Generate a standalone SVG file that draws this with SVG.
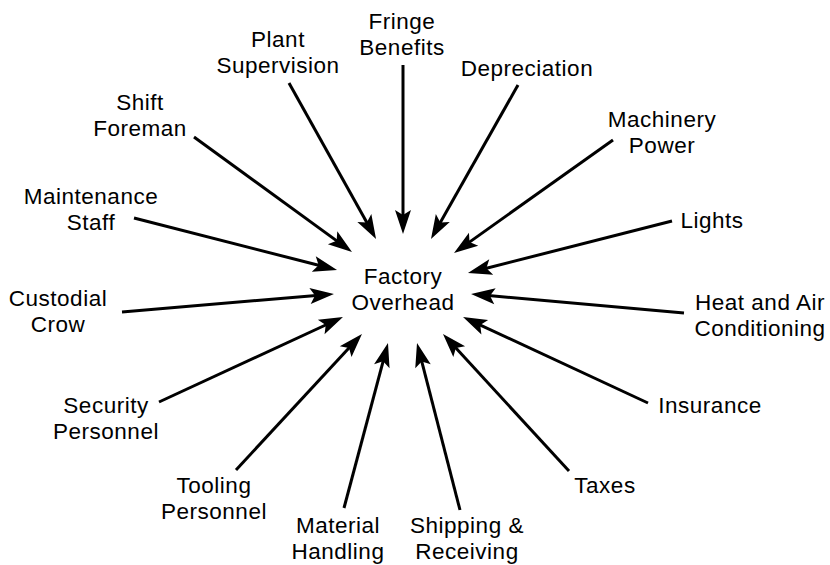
<svg xmlns="http://www.w3.org/2000/svg" width="830" height="565" viewBox="0 0 830 565">
<style>
text{font-family:"Liberation Sans",Arial,Helvetica,sans-serif;font-size:22.5px;fill:#000;text-anchor:middle;letter-spacing:0.5px}
.c line{stroke:#000;stroke-width:3;marker-end:url(#ah)}
</style>
<defs>
<marker id="ah" markerUnits="userSpaceOnUse" markerWidth="30" markerHeight="20" refX="0" refY="0" orient="auto" overflow="visible" viewBox="-15 -10 30 20">
<path d="M12,0 L-12,-8 L-7,0 L-12,8 Z" fill="#000"/>
</marker>
</defs>
<rect width="830" height="565" fill="#fff"/>
<g id="center"><text x="403" y="284">Factory</text><text x="403" y="310">Overhead</text></g>
<g id="fringe"><text x="402" y="29">Fringe</text><text x="402" y="55">Benefits</text></g>
<g id="plant"><text x="278" y="47">Plant</text><text x="278" y="73">Supervision</text></g>
<g id="shift"><text x="140" y="110">Shift</text><text x="140" y="136">Foreman</text></g>
<g id="maintenance"><text x="91" y="204">Maintenance</text><text x="91" y="230">Staff</text></g>
<g id="custodial"><text x="58" y="306">Custodial</text><text x="58" y="332">Crow</text></g>
<g id="security"><text x="106" y="413">Security</text><text x="106" y="439">Personnel</text></g>
<g id="tooling"><text x="214" y="493">Tooling</text><text x="214" y="519">Personnel</text></g>
<g id="material"><text x="338" y="533">Material</text><text x="338" y="559">Handling</text></g>
<g id="shipping"><text x="467" y="533">Shipping &amp;</text><text x="467" y="559">Receiving</text></g>
<g id="taxes"><text x="605" y="493">Taxes</text></g>
<g id="insurance"><text x="710" y="413">Insurance</text></g>
<g id="heat"><text x="760" y="310">Heat and Air</text><text x="760" y="336">Conditioning</text></g>
<g id="lights"><text x="712" y="228">Lights</text></g>
<g id="machinery"><text x="662" y="127">Machinery</text><text x="662" y="153">Power</text></g>
<g id="depreciation"><text x="527" y="76">Depreciation</text></g>
<g id="connectors" class="c">
<line x1="289" y1="83" x2="370.2" y2="228.5"/>
<line x1="403" y1="65" x2="403" y2="222"/>
<line x1="194" y1="137" x2="342.3" y2="244.9"/>
<line x1="134" y1="218" x2="325.4" y2="267"/>
<line x1="518" y1="85" x2="436.9" y2="228.5"/>
<line x1="613" y1="140" x2="463.8" y2="246.1"/>
<line x1="672" y1="221" x2="479.6" y2="270"/>
<line x1="122" y1="312" x2="322" y2="295"/>
<line x1="159" y1="402" x2="332.1" y2="322"/>
<line x1="236" y1="470" x2="353.8" y2="342.8"/>
<line x1="344" y1="508" x2="384.9" y2="354.6"/>
<line x1="684" y1="313" x2="483" y2="295.1"/>
<line x1="648" y1="403" x2="473.9" y2="322.1"/>
<line x1="569" y1="471" x2="451.1" y2="342.8"/>
<line x1="460" y1="510" x2="420" y2="354.6"/>
</g>
</svg>
